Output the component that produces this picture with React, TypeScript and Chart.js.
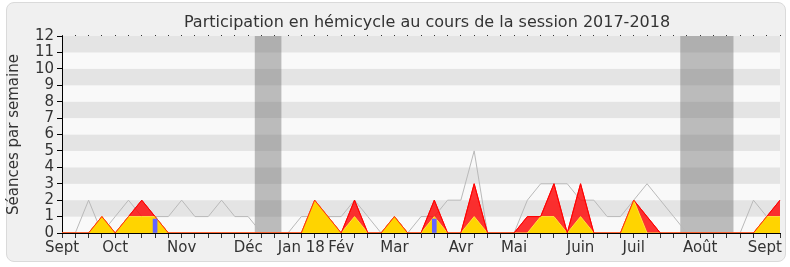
import React, { useEffect, useRef } from 'react';
import { Chart, registerables } from 'chart.js';

Chart.register(...registerables);

const TITLE = 'Participation en hémicycle au cours de la session 2017-2018';
const Y_TITLE = 'Séances par semaine';

const WEEK_LABELS = [
  'Sept', '', '', '', 'Oct', '', '', '', '', 'Nov', '', '', '', '', 'Déc', '', '', '',
  'Jan 18', '', '', 'Fév', '', '', '', 'Mar', '', '', '', '', 'Avr', '', '', '',
  'Mai', '', '', '', '', 'Juin', '', '', '', 'Juil', '', '', '', '', 'Août', '', '', '', '', '', 'Sept',
];

const MEDIANE = [
  0, 0, 2, 0, 1, 2, 1, 1, 1, 2, 1, 1, 2, 1, 1,
  0, 0, 0, 1, 1, 1, 1, 2, 1, 0, 1, 0, 1, 1, 2,
  2, 5, 0, 0, 0, 2, 3, 3, 3, 2, 2, 1, 1, 2, 3,
  2, 1, 0, 0, 0, 0, 0, 2, 1, 1,
];

const PRESENCES = [
  0, 0, 0, 1, 0, 1, 2, 1, 0, 0, 0, 0, 0, 0, 0,
  0, 0, 0, 0, 2, 1, 0, 2, 0, 0, 1, 0, 0, 2, 0,
  0, 3, 0, 0, 0, 1, 1, 3, 0, 3, 0, 0, 0, 2, 1,
  0, 0, 0, 0, 0, 0, 0, 0, 1, 2,
];

const INTERVENTIONS = [
  0, 0, 0, 1, 0, 1, 1, 1, 0, 0, 0, 0, 0, 0, 0,
  0, 0, 0, 0, 2, 1, 0, 1, 0, 0, 1, 0, 0, 1, 0,
  0, 1, 0, 0, 0, 0, 1, 1, 0, 1, 0, 0, 0, 2, 0,
  0, 0, 0, 0, 0, 0, 0, 0, 1, 1,
];

const QUESTIONS: (number | null)[] = [
  null, null, null, null, null, null, null, 0.85, null, null, null, null, null, null, null,
  null, null, null, null, null, null, null, null, null, null, null, null, null, 0.85, null,
  null, null, null, null, null, null, null, null, null, null, null, null, null, null, null,
  null, null, null, null, null, null, null, null, null, null,
];

const VACANCES: [number, number][] = [
  [14.5, 16.5],
  [46.5, 50.5],
];

const Y_MAX = 12;
const FONT = 'DejaVu Sans';

const backgroundPlugin = {
  id: 'bgBands',
  beforeDraw(chart: any) {
    const { ctx, chartArea, scales } = chart;
    const y = scales.y;
    const x = scales.x;
    ctx.save();
    for (let v = 0; v < Y_MAX; v++) {
      const top = y.getPixelForValue(v + 1);
      const bot = y.getPixelForValue(v);
      ctx.fillStyle = v % 2 === 1 ? '#e4e4e4' : '#f9f9f9';
      ctx.fillRect(chartArea.left, top, chartArea.right - chartArea.left, bot - top);
    }
    ctx.fillStyle = 'rgba(96,96,96,0.4)';
    for (const [a, b] of VACANCES) {
      const xa = x.getPixelForValue(a);
      const xb = x.getPixelForValue(b);
      ctx.fillRect(xa, chartArea.top, xb - xa, chartArea.bottom - chartArea.top);
    }
    ctx.restore();
    // keep the last month label inside the frame (right-aligned on its tick)
    const items = x.getLabelItems(chartArea);
    if (items && items.length) {
      const last = items[items.length - 1];
      if (last && last.label) {
        last.options.textAlign = 'right';
        last.options.translation = [chartArea.right + 2, last.options.translation[1]];
      }
    }
  },
  afterDraw(chart: any) {
    const { ctx, chartArea } = chart;
    ctx.save();
    ctx.fillStyle = '#333';
    ctx.font = `16px "${FONT}"`;
    ctx.textAlign = 'center';
    ctx.textBaseline = 'alphabetic';
    ctx.fillText(TITLE, 427, 27);
    ctx.translate(18, (chartArea.top + chartArea.bottom) / 2);
    ctx.rotate(-Math.PI / 2);
    ctx.font = `15px "${FONT}"`;
    ctx.fillText(Y_TITLE, 0, 0);
    ctx.restore();
  },
};

export default function App() {
  const ref = useRef<HTMLCanvasElement>(null);
  useEffect(() => {
    const canvas = ref.current!;
    Chart.defaults.font.family = FONT;
    const chart = new Chart(canvas, {
      type: 'line',
      data: {
        labels: WEEK_LABELS,
        datasets: [
          {
            type: 'bar',
            label: 'Questions orales',
            data: QUESTIONS,
            backgroundColor: 'rgb(100,100,255)',
            barThickness: 4,
          } as any,
          {
            label: 'Présences (ligne)',
            data: PRESENCES,
            borderColor: 'rgba(255,0,0,0.8)',
            borderWidth: 1,
            fill: false,
            pointRadius: 0,
            tension: 0,
          },
          {
            label: 'Interventions',
            data: INTERVENTIONS,
            borderColor: 'rgb(255,225,60)',
            backgroundColor: 'rgb(255,212,0)',
            borderWidth: 1,
            fill: 'origin',
            pointRadius: 0,
            tension: 0,
          },
          {
            label: 'Présences',
            data: PRESENCES,
            borderColor: 'rgb(255,0,0)',
            backgroundColor: 'rgba(255,0,0,0.8)',
            borderWidth: 1,
            fill: 'origin',
            pointRadius: 0,
            tension: 0,
          },
          {
            label: 'Médiane',
            data: MEDIANE,
            borderColor: '#b9b9b9',
            borderWidth: 1,
            fill: false,
            pointRadius: 0,
            tension: 0,
          },
        ],
      },
      options: {
        responsive: false,
        animation: false,
        events: [],
        layout: { padding: { left: 0, right: 10, top: 34, bottom: 0 } },
        plugins: {
          legend: { display: false },
          tooltip: { enabled: false },
          title: { display: false },
        },
        scales: {
          x: {
            type: 'category',
            position: 'bottom',
            offset: false,
            grid: { display: true, drawOnChartArea: false, drawTicks: true, tickLength: 5, color: '#333', offset: false },
            border: { display: true, color: '#000', width: 1 },
            ticks: {
              autoSkip: false,
              maxRotation: 0,
              minRotation: 0,
              padding: 1,
              color: '#333',
              font: { size: 15, family: FONT },
            },
            afterFit: (s: any) => { s.height = 34; s.paddingRight = 0; s.paddingLeft = 0; },
          },
          x2: {
            type: 'category',
            position: 'top',
            offset: false,
            grid: { display: true, drawOnChartArea: false, drawTicks: true, tickLength: 1, color: '#333', offset: false },
            border: { display: false },
            ticks: { display: false, autoSkip: false },
            afterFit: (s: any) => { s.height = 2; s.paddingRight = 0; s.paddingLeft = 0; },
          },
          y: {
            type: 'linear',
            min: 0,
            max: Y_MAX,
            grid: { display: true, drawOnChartArea: false, drawTicks: true, tickLength: 5, color: '#000' },
            border: { display: true, color: '#000', width: 1 },
            ticks: {
              stepSize: 1,
              autoSkip: false,
              padding: 3,
              color: '#333',
              font: { size: 15, family: FONT },
            },
            afterFit: (s: any) => { s.width = 62; s.paddingTop = 0; s.paddingBottom = 0; },
          },
        },
      },
      plugins: [backgroundPlugin],
    });
    return () => chart.destroy();
  }, []);

  return (
    <div style={{ position: 'fixed', left: 0, top: 0, width: 790, height: 267, background: '#fff' }}>
      <div
        style={{
          position: 'absolute',
          left: 6,
          top: 2,
          width: 778,
          height: 258,
          background: '#f0f0f0',
          border: '1px solid #dadada',
          borderRadius: 8,
        }}
      />
      <canvas
        ref={ref}
        width={790}
        height={267}
        style={{ position: 'absolute', left: 0, top: 0, width: 790, height: 267 }}
      />
    </div>
  );
}
